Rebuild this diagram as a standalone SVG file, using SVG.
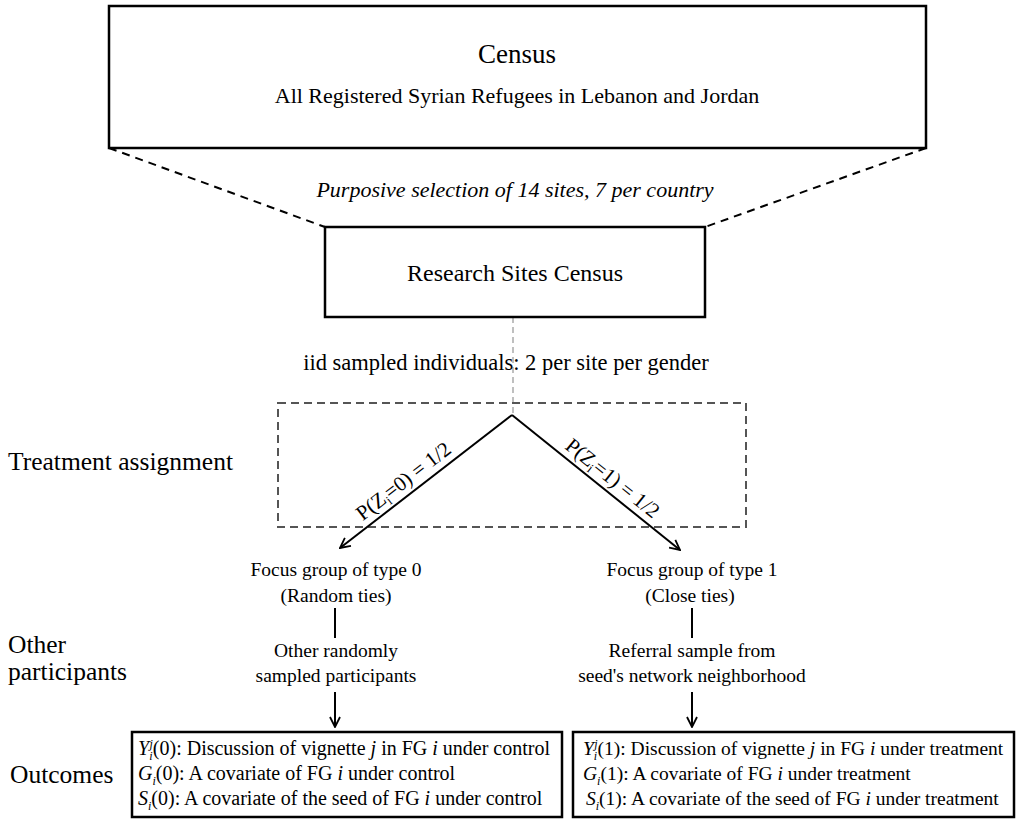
<svg xmlns="http://www.w3.org/2000/svg" width="1016" height="825" viewBox="0 0 1016 825">
<defs>
<style>
text{font-family:"Liberation Serif","Times New Roman",serif;fill:#000}
.box{fill:#fff;stroke:#000;stroke-width:2.5}
.ln{stroke:#000;stroke-width:2;fill:none}
.dash{stroke:#000;stroke-width:2;stroke-dasharray:8,6;fill:none}
.gdash{stroke:#aaa;stroke-width:1.5;stroke-dasharray:6,4;fill:none}
.rdash{stroke:#555;stroke-width:2;stroke-dasharray:8,5;fill:none}
.m{text-anchor:middle}
.it{font-style:italic}
.side{font-size:25.5px}
.fg{font-size:19.5px}
.ob{font-size:20px}
.ob1{font-size:19.5px}
</style>
<marker id="ah" viewBox="0 0 12 12" refX="11" refY="6" markerWidth="12" markerHeight="12" markerUnits="userSpaceOnUse" orient="auto">
<path d="M1,1 L11,6 L1,11" fill="none" stroke="#000" stroke-width="1.8"/>
</marker>
</defs>
<g id="connectors">
<line class="dash" x1="109" y1="148" x2="325" y2="227"/>
<line class="dash" x1="926" y1="148" x2="705" y2="227"/>
<line class="gdash" x1="513" y1="317" x2="513" y2="414"/>
<rect class="rdash" x="278" y="403" width="468" height="124"/>
<line class="ln" x1="512" y1="415" x2="340" y2="548" marker-end="url(#ah)"/>
<line class="ln" x1="512" y1="415" x2="680" y2="550" marker-end="url(#ah)"/>
<line class="ln" x1="335" y1="608" x2="335" y2="638"/>
<line class="ln" x1="692" y1="608" x2="692" y2="638"/>
<line class="ln" x1="335" y1="692" x2="335" y2="727" marker-end="url(#ah)"/>
<line class="ln" x1="692" y1="692" x2="692" y2="727" marker-end="url(#ah)"/>
</g>
<g id="census">
<rect class="box" x="109" y="6" width="817" height="142"/>
<text class="m" x="517" y="63" font-size="27">Census</text>
<text class="m" x="517" y="103" font-size="22">All Registered Syrian Refugees in Lebanon and Jordan</text>
</g>
<text class="m it" x="515" y="197" font-size="22">Purposive selection of 14 sites, 7 per country</text>
<g id="research-sites">
<rect class="box" x="325" y="227" width="380" height="90"/>
<text class="m" x="515" y="281" font-size="24">Research Sites Census</text>
</g>
<text class="m" x="506" y="370" font-size="22.5">iid sampled individuals: 2 per site per gender</text>
<g id="labels">
<text class="side" x="8" y="470">Treatment assignment</text>
<text class="side" x="8" y="653">Other</text>
<text class="side" x="8" y="680">participants</text>
<text class="side" x="10" y="783">Outcomes</text>
</g>
<text font-size="21" transform="translate(412,492) rotate(-37.7)" class="m" y="-7">P(Z<tspan font-size="13" dy="4">i</tspan><tspan dy="-4">=0) = 1/2</tspan></text>
<text font-size="21" transform="translate(604,489) rotate(38.8)" class="m" y="-7">P(Z<tspan font-size="13" dy="4">i</tspan><tspan dy="-4">=1) = 1/2</tspan></text>
<g id="fg0">
<text class="m fg" x="336" y="576">Focus group of type 0</text>
<text class="m fg" x="336" y="602">(Random ties)</text>
</g>
<g id="fg1">
<text class="m fg" x="692" y="576">Focus group of type 1</text>
<text class="m fg" x="690" y="602">(Close ties)</text>
</g>
<g id="other0">
<text class="m fg" x="336" y="657">Other randomly</text>
<text class="m fg" x="336" y="682">sampled participants</text>
</g>
<g id="other1">
<text class="m fg" x="692" y="657">Referral sample from</text>
<text class="m fg" x="692" y="682">seed's network neighborhood</text>
</g>
<g id="outcomes0">
<rect class="box" x="132" y="732" width="430" height="85"/>
<text class="ob" x="138" y="755"><tspan class="it">Y</tspan><tspan class="it" font-size="12" dy="5">i</tspan><tspan class="it" font-size="12" dx="-3" dy="-12">j</tspan><tspan dy="7">(0): Discussion of vignette </tspan><tspan class="it">j</tspan> in FG <tspan class="it">i</tspan> under control</text>
<text class="ob" x="138" y="780"><tspan class="it">G</tspan><tspan class="it" font-size="12" dy="5">i</tspan><tspan dy="-5">(0): A covariate of FG </tspan><tspan class="it">i</tspan> under control</text>
<text class="ob" x="138" y="805"><tspan class="it">S</tspan><tspan class="it" font-size="12" dy="5">i</tspan><tspan dy="-5">(0): A covariate of the seed of FG </tspan><tspan class="it">i</tspan> under control</text>
</g>
<g id="outcomes1">
<rect class="box" x="573" y="732" width="441" height="85"/>
<text class="ob1" x="583" y="755"><tspan class="it">Y</tspan><tspan class="it" font-size="12" dy="5">i</tspan><tspan class="it" font-size="12" dx="-3" dy="-12">j</tspan><tspan dy="7">(1): Discussion of vignette </tspan><tspan class="it">j</tspan> in FG <tspan class="it">i</tspan> under treatment</text>
<text class="ob1" x="583" y="780"><tspan class="it">G</tspan><tspan class="it" font-size="12" dy="5">i</tspan><tspan dy="-5">(1): A covariate of FG </tspan><tspan class="it">i</tspan> under treatment</text>
<text class="ob1" x="586" y="805"><tspan class="it">S</tspan><tspan class="it" font-size="12" dy="5">i</tspan><tspan dy="-5">(1): A covariate of the seed of FG </tspan><tspan class="it">i</tspan> under treatment</text>
</g>
</svg>
